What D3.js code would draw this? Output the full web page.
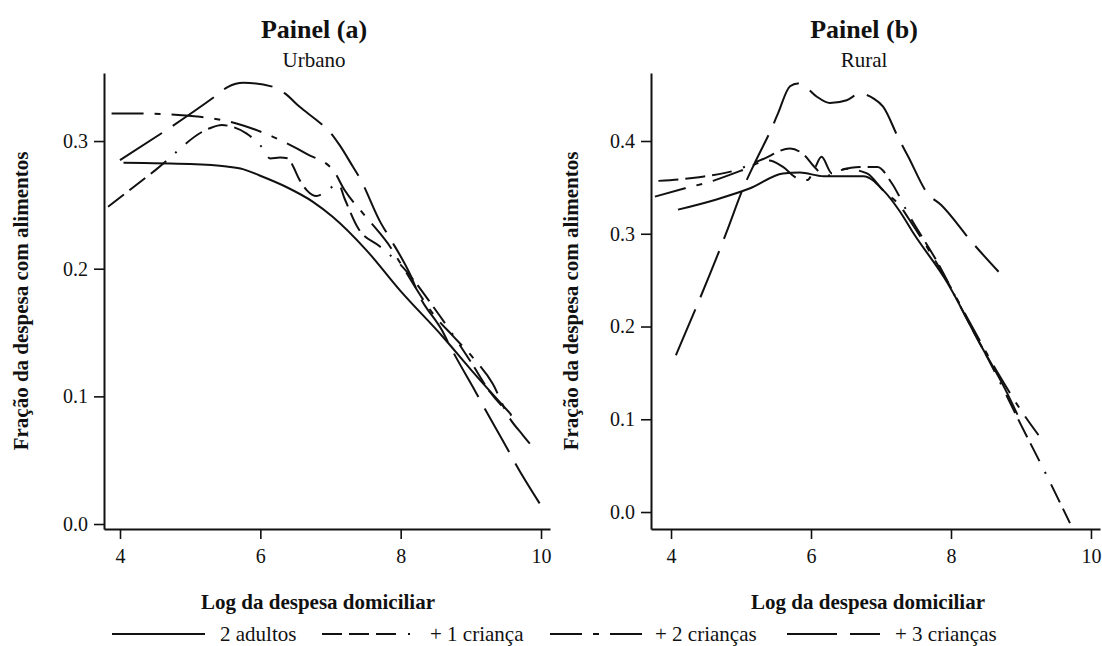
<!DOCTYPE html>
<html><head><meta charset="utf-8">
<script src="https://cdn.jsdelivr.net/npm/d3@7"></script>
<style>body{margin:0;background:#fff} svg{display:block} svg text{font-family:"Liberation Serif","DejaVu Serif","Times New Roman",serif;}</style>
</head><body><svg id="c" width="1102" height="646"></svg>
<script>
// ---- data ----
const categories = ["2 adultos", "+ 1 criança", "+ 2 crianças", "+ 3 crianças"];
const panelTitles = ["Painel (a)", "Painel (b)"];
const panelSubtitles = ["Urbano", "Rural"];
const xTicks = [4, 6, 8, 10];
const yTicksUrbano = [0.0, 0.1, 0.2, 0.3];
const yTicksRural = [0.0, 0.1, 0.2, 0.3, 0.4];
const xLabel = "Log da despesa domiciliar";
const yLabel = "Fração da despesa com alimentos";

const urbano2Adultos = [[4.05,0.283],[5.0,0.282],[5.52,0.280],[5.75,0.278],[5.99,0.273],[6.37,0.264],[6.75,0.2524],[7.03,0.2407],[7.51,0.2146],[7.99,0.183],[8.60,0.1467],[9.0,0.121],[9.57,0.086]];
const urbano1Crianca = [[3.83,0.2485],[4.5,0.277],[5.28,0.310],[5.45,0.3125],[5.61,0.311],[5.80,0.306],[6.04,0.294],[6.14,0.2864],[6.28,0.2871],[6.40,0.2864],[6.47,0.2798],[6.56,0.2694],[6.66,0.2616],[6.80,0.2569],[6.99,0.2629],[7.11,0.2668],[7.2,0.255],[7.39,0.232],[7.7,0.2175],[8.0,0.203],[8.48,0.169],[9.0,0.127],[9.27,0.1036],[9.6,0.084]];
const urbano2Criancas = [[3.88,0.3215],[4.33,0.3215],[5.14,0.319],[5.66,0.3138],[6.18,0.3033],[6.66,0.290],[7.04,0.277],[7.20,0.2616],[7.46,0.2435],[7.70,0.228],[7.84,0.218],[8.0,0.204],[8.5,0.162],[8.75,0.147],[9.04,0.1297],[9.31,0.110],[9.54,0.084],[9.74,0.0697],[9.91,0.0585]];
const urbano3Criancas = [[4.0,0.285],[5.38,0.336],[5.54,0.3425],[5.76,0.3456],[6.18,0.3425],[6.35,0.3373],[6.56,0.3268],[6.80,0.3164],[6.99,0.3072],[7.13,0.2968],[7.32,0.2798],[7.42,0.2707],[7.72,0.2355],[7.82,0.2263],[8.15,0.1937],[8.25,0.1807],[8.60,0.1506],[8.72,0.1376],[9.08,0.1023],[9.17,0.0932],[9.53,0.058],[9.62,0.0488],[9.98,0.0162]];

const rural2Adultos = [[4.10,0.326],[4.65,0.337],[5.13,0.349],[5.6,0.365],[5.84,0.366],[6.18,0.362],[6.56,0.362],[6.75,0.362],[7.03,0.347],[7.27,0.324],[7.46,0.301],[7.95,0.247],[8.41,0.182],[8.77,0.133],[8.95,0.105]];
const rural1Crianca = [[3.82,0.357],[4.4,0.361],[4.9,0.368],[5.3,0.380],[5.7,0.392],[5.9,0.385],[6.05,0.372],[6.2,0.362],[6.4,0.368],[6.7,0.372],[6.95,0.372],[7.15,0.355],[7.4,0.32],[7.8,0.27],[8.2,0.212],[8.6,0.155],[9.0,0.094],[9.35,0.042],[9.70,-0.012]];
const rural2Criancas = [[3.77,0.340],[4.2,0.349],[4.6,0.357],[5.0,0.368],[5.4,0.379],[5.6,0.372],[5.8,0.360],[5.95,0.358],[6.05,0.370],[6.15,0.383],[6.3,0.365],[6.5,0.370],[6.8,0.365],[7.05,0.345],[7.25,0.332],[7.45,0.31],[7.9,0.255],[8.3,0.2],[8.7,0.146],[9.05,0.104],[9.25,0.083]];
const rural3Criancas = [[4.07,0.169],[4.8,0.303],[5.03,0.349],[5.22,0.38],[5.44,0.414],[5.53,0.43],[5.70,0.459],[5.81,0.462],[5.91,0.459],[6.08,0.448],[6.27,0.441],[6.51,0.444],[6.70,0.451],[6.89,0.446],[7.03,0.437],[7.25,0.403],[7.39,0.383],[7.66,0.344],[7.86,0.331],[8.31,0.29],[8.68,0.259]];

// ---- styles ----
const dashes = [null, "20 7 20 7 20 12 2 12", "32 11 6 11", "50 13"];
const FONT = "'Liberation Serif', 'DejaVu Serif', 'Times New Roman', serif";

const svg = d3.select("#c");

const panels = [
  {title: panelTitles[0], sub: panelSubtitles[0], series: [urbano2Adultos, urbano1Crianca, urbano2Criancas, urbano3Criancas],
   yTicks: yTicksUrbano, left: 104, right: 550, xd: [3.772, 10.128], yd: [-0.0039, 0.3533], ylabX: 21, cx: 314},
  {title: panelTitles[1], sub: panelSubtitles[1], series: [rural2Adultos, rural1Crianca, rural2Criancas, rural3Criancas],
   yTicks: yTicksRural, left: 651, right: 1100, xd: [3.714, 10.129], yd: [-0.0183, 0.4733], ylabX: 571, cx: 864}
];
const plotTop = 73, plotBottom = 529;

panels.forEach(p => {
  const x = d3.scaleLinear().domain(p.xd).range([p.left, p.right]);
  const y = d3.scaleLinear().domain(p.yd).range([plotBottom, plotTop]);
  const g = svg.append("g");

  const xa = g.append("g").attr("transform", `translate(0,${plotBottom})`)
    .call(d3.axisBottom(x).tickValues(xTicks).tickSizeOuter(0).tickSizeInner(10).tickPadding(10).tickFormat(d3.format("d")));
  const ya = g.append("g").attr("transform", `translate(${p.left},0)`)
    .call(d3.axisLeft(y).tickValues(p.yTicks).tickSizeOuter(0).tickSizeInner(10).tickPadding(6).tickFormat(d3.format(".1f")));
  [xa, ya].forEach(a => {
    a.attr("font-family", null).attr("font-size", null);
    a.selectAll("path.domain").attr("stroke", "#111").attr("stroke-width", 2);
    a.selectAll(".tick line").attr("stroke", "#111").attr("stroke-width", 1.6);
    a.selectAll("text").style("font-family", FONT).style("font-size", "20px").attr("fill", "#111");
  });

  const line = d3.line().x(d => x(d[0])).y(d => y(d[1])).curve(d3.curveMonotoneX);
  p.series.forEach((s, i) => {
    g.append("path").datum(s).attr("d", line)
      .attr("fill", "none").attr("stroke", "#111").attr("stroke-width", 2)
      .attr("stroke-dasharray", dashes[i]);
  });

  g.append("text").attr("x", p.cx).attr("y", 38).attr("text-anchor", "middle")
    .style("font-family", FONT).style("font-weight", "bold").style("font-size", "26px").attr("fill", "#111").text(p.title);
  g.append("text").attr("x", p.cx).attr("y", 67).attr("text-anchor", "middle")
    .style("font-family", FONT).style("font-size", "21px").attr("fill", "#111").text(p.sub);
  g.append("text").attr("x", p.cx + 4).attr("y", 609).attr("text-anchor", "middle")
    .style("font-family", FONT).style("font-weight", "bold").style("font-size", "21px").attr("fill", "#111").text(xLabel);
  g.append("text").attr("transform", `translate(${p.ylabX + 7},301) rotate(-90)`).attr("text-anchor", "middle")
    .style("font-family", FONT).style("font-weight", "bold").style("font-size", "21px").attr("fill", "#111").text(yLabel);
});

// ---- legend ----
const legendX = [112, 322, 550, 787];
const leg = svg.append("g");
categories.forEach((c, i) => {
  leg.append("line").attr("x1", legendX[i]).attr("x2", legendX[i] + 93).attr("y1", 634).attr("y2", 634)
    .attr("stroke", "#111").attr("stroke-width", 2).attr("stroke-dasharray", dashes[i]);
  leg.append("text").attr("x", legendX[i] + (i === 2 ? 105 : 108)).attr("y", 641)
    .style("font-family", FONT).style("font-size", "21px").attr("fill", "#111").text(c);
});
</script></body></html>
